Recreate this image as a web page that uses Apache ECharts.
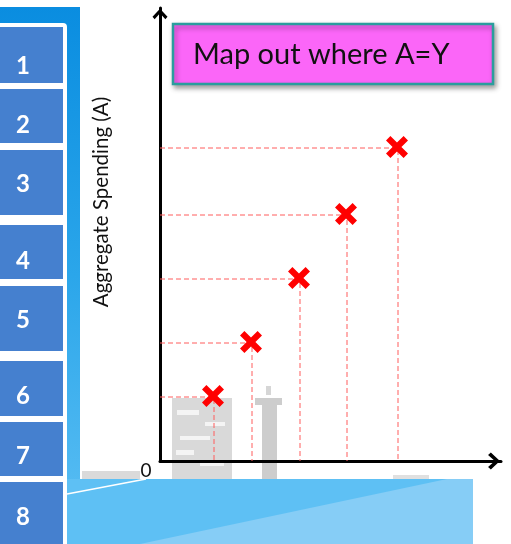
<!DOCTYPE html>
<html>
<head>
<meta charset="utf-8">
<script src="https://cdn.jsdelivr.net/npm/echarts@6/dist/echarts.min.js"></script>
<style>
html,body{margin:0;padding:0;background:#fff;}
#c{width:511px;height:544px;}
</style>
</head>
<body>
<div id="c"></div>
<script>
// ---- data (arbitrary units) ----
const incomeY = [54, 92, 140, 187, 238];      // x positions of the A=Y points
const spendingA = [64, 118, 182, 246, 313];   // y positions of the A=Y points
const boxLabels = ['1', '2', '3', '4', '5', '6', '7', '8'];
const titleText = 'Map out where A=Y';
const yAxisName = 'Aggregate Spending (A)';
const originLabel = '0';

const chart = echarts.init(document.getElementById('c'), null, {renderer: 'canvas'});

const points = incomeY.map((x, i) => [x, spendingA[i]]);
const crossPath = 'path://M0,4 L4,0 L10,6 L16,0 L20,4 L14,10 L20,16 L16,20 L10,14 L4,20 L0,16 L6,10 Z';
const chevron = 'path://M7,0 L14,7.5 L12,9.8 L7,4.2 L2,9.8 L0,7.5 Z';

const dashSeries = points.map(p => ({
  type: 'line',
  data: [[0, p[1]], [p[0], p[1]], [p[0], 0]],
  symbol: 'none',
  silent: true,
  z: 2,
  lineStyle: {color: '#ff5c5c', width: 1, type: [5, 3]}
}));

// left panel boxes
const boxTops = [27, 89, 150, 225, 286, 361, 422, 482];
const boxBottoms = [83, 143, 215, 279, 351, 416, 476, 560];
const numY = [66, 125, 184, 261, 320, 396, 456, 517];

const graphics = [
  // blue strip
  {type: 'rect', shape: {x: 0, y: 7, width: 80, height: 537}, z: -10,
   style: {fill: new echarts.graphic.LinearGradient(0, 0, 0, 1, [
     {offset: 0, color: '#0a8de0'}, {offset: 0.5, color: '#2ba6ea'}, {offset: 1, color: '#5ec0f4'}])}},
  // white frame
  {type: 'rect', shape: {x: -10, y: 23, width: 77, height: 600, r: 4}, z: -9, style: {fill: '#ffffff'}},
  // watermark buildings
  {type: 'rect', shape: {x: 172, y: 398, width: 60, height: 81}, z: -5, style: {fill: '#d9d9d9'}},
  {type: 'rect', shape: {x: 177, y: 410, width: 22, height: 5}, z: -4, style: {fill: '#f4f4f4'}},
  {type: 'rect', shape: {x: 205, y: 422, width: 20, height: 4}, z: -4, style: {fill: '#f4f4f4'}},
  {type: 'rect', shape: {x: 180, y: 436, width: 30, height: 4}, z: -4, style: {fill: '#f4f4f4'}},
  {type: 'rect', shape: {x: 176, y: 450, width: 18, height: 5}, z: -4, style: {fill: '#f4f4f4'}},
  {type: 'rect', shape: {x: 200, y: 462, width: 24, height: 4}, z: -4, style: {fill: '#f4f4f4'}},
  {type: 'rect', shape: {x: 255, y: 398, width: 27, height: 7}, z: -5, style: {fill: '#cdcdcd'}},
  {type: 'rect', shape: {x: 262, y: 405, width: 15, height: 74}, z: -5, style: {fill: '#cdcdcd'}},
  {type: 'rect', shape: {x: 266, y: 386, width: 5, height: 9}, z: -5, style: {fill: '#d6d6d6'}},
  {type: 'rect', shape: {x: 82, y: 471, width: 58, height: 8}, z: -5, style: {fill: '#dadada'}},
  {type: 'rect', shape: {x: 393, y: 475, width: 36, height: 4}, z: -5, style: {fill: '#e0e0e0'}},
  // bottom blue shape
  {type: 'rect', shape: {x: 67, y: 479, width: 406, height: 65}, z: 20, style: {fill: '#5ec0f4'}},
  {type: 'polygon', shape: {points: [[140, 544], [447, 479], [473, 479], [473, 544]]}, z: 21, style: {fill: '#86cdf6'}},
  {type: 'line', shape: {x1: 67, y1: 494, x2: 146, y2: 479}, z: 22, style: {stroke: '#ffffff', lineWidth: 1.5}},
  // title box
  {type: 'rect', shape: {x: 173, y: 24, width: 320, height: 60}, z: 30,
   style: {fill: '#fb66f8', stroke: '#2a9d9d', lineWidth: 2.5, shadowBlur: 5, shadowOffsetX: 2, shadowOffsetY: 3, shadowColor: 'rgba(0,0,0,0.35)'}},
  {type: 'text', x: 193, y: 55, z: 31,
   style: {text: titleText, fill: '#111', font: '29px Lato', textAlign: 'left', textVerticalAlign: 'middle'}},
  // y axis name
  {type: 'text', x: 101, y: 202, rotation: Math.PI / 2, z: 5,
   style: {text: yAxisName, fill: '#111', font: '20.5px Lato', textAlign: 'center', textVerticalAlign: 'middle'}},
  // origin label
  {type: 'text', x: 146, y: 471, z: 5,
   style: {text: originLabel, fill: '#111', font: '19px Lato', textAlign: 'center', textVerticalAlign: 'middle'}}
];
boxLabels.forEach((lab, i) => {
  graphics.push({type: 'rect', shape: {x: 0, y: boxTops[i], width: 63, height: boxBottoms[i] - boxTops[i]}, z: -8, style: {fill: '#4580cf'}});
  graphics.push({type: 'text', x: 23, y: numY[i], z: -7,
    style: {text: lab, fill: '#ffffff', font: 'bold 24px Lato', textAlign: 'center', textVerticalAlign: 'middle'}});
});

chart.setOption({
  animation: false,
  backgroundColor: '#ffffff',
  grid: {left: 160, right: 10, top: 8, bottom: 83, containLabel: false},
  xAxis: {
    type: 'value', min: 0, max: 341,
    axisLine: {show: true, onZero: false, symbol: ['none', chevron], symbolSize: [17, 14], symbolOffset: [0, -7],
      lineStyle: {color: '#000', width: 3}},
    axisTick: {show: false}, axisLabel: {show: false}, splitLine: {show: false}
  },
  yAxis: {
    type: 'value', min: 0, max: 453,
    axisLine: {show: true, onZero: false, symbol: ['none', chevron], symbolSize: [15, 13], symbolOffset: [0, -6],
      lineStyle: {color: '#000', width: 3}},
    axisTick: {show: false}, axisLabel: {show: false}, splitLine: {show: false}
  },
  graphic: graphics,
  series: dashSeries.concat([{
    type: 'scatter',
    data: points,
    symbol: crossPath,
    symbolSize: 22,
    symbolOffset: [-1, -1],
    z: 5,
    itemStyle: {color: '#ff0000', opacity: 1}
  }])
});
</script>
</body>
</html>
